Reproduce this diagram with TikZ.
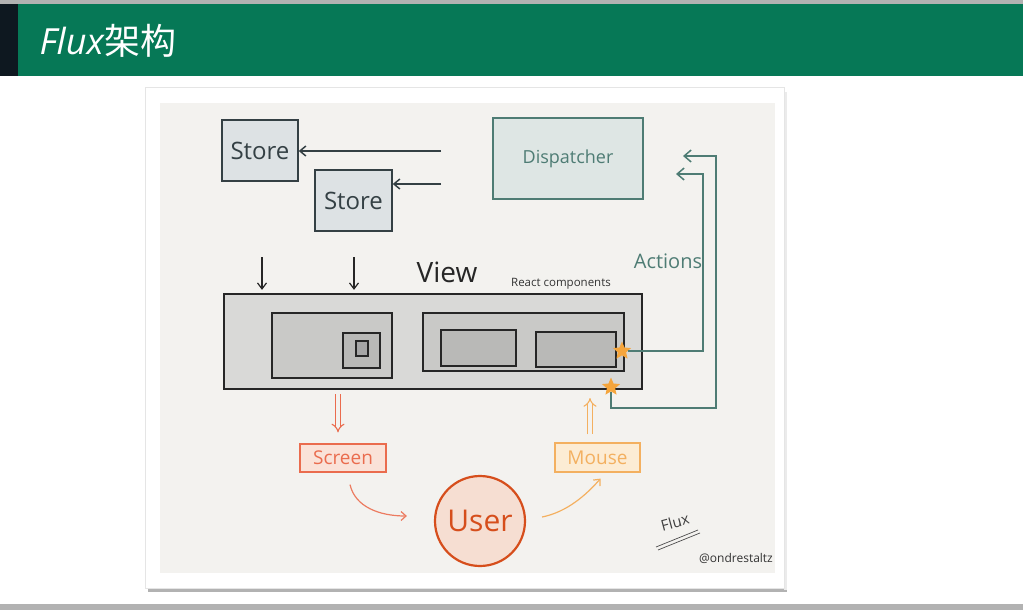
\documentclass[tikz,border=0pt]{standalone}
\usepackage{fontspec}
\setmainfont{Open Sans}
\newfontfamily\cjk{Noto Sans CJK SC}
\usetikzlibrary{arrows.meta,positioning,calc,shapes.geometric}

\definecolor{slidegreen}{RGB}{6,120,86}
\definecolor{slidedark}{RGB}{14,24,32}
\definecolor{paper}{RGB}{243,242,239}
\definecolor{inkdark}{RGB}{52,64,68}
\definecolor{storefill}{RGB}{221,226,228}
\definecolor{dispteal}{RGB}{78,124,116}
\definecolor{dispfill}{RGB}{222,230,228}
\definecolor{viewfill}{RGB}{217,217,215}
\definecolor{compfill}{RGB}{201,201,199}
\definecolor{subfill}{RGB}{185,185,183}
\definecolor{screenred}{RGB}{234,108,78}
\definecolor{screenfill}{RGB}{250,226,216}
\definecolor{mouseorange}{RGB}{243,176,96}
\definecolor{mousefill}{RGB}{252,236,212}
\definecolor{userred}{RGB}{214,78,28}
\definecolor{userfill}{RGB}{246,222,210}
\definecolor{starorange}{RGB}{245,165,60}

\begin{document}
\begin{tikzpicture}[
    x=1pt, y=-1pt,
    store/.style={
        rectangle, draw=inkdark, fill=storefill, line width=1.4pt,
        inner sep=0pt, minimum width=76pt, minimum height=61pt,
        font=\fontsize{24}{28}\selectfont, text=inkdark
    },
    dispatcher/.style={
        rectangle, draw=dispteal, fill=dispfill, line width=1.4pt,
        inner sep=0pt, minimum width=150pt, minimum height=81pt,
        font=\fontsize{18}{21}\selectfont, text=dispteal
    },
    comp/.style={
        rectangle, draw=black!85, line width=1.6pt, inner sep=0pt
    },
    tag/.style={
        rectangle, line width=1.2pt, inner sep=0pt,
        minimum width=86pt, minimum height=28pt,
        font=\fontsize{19}{22}\selectfont
    },
    spark/.style={
        star, star points=5, star point ratio=2.2, fill=starorange,
        inner sep=0pt, minimum size=19pt
    },
    feed/.style={-{Straight Barb[length=6pt,width=10pt]}, line width=1.5pt, inkdark},
    down/.style={-{Straight Barb[length=6pt,width=9pt]}, line width=1.2pt, black!85},
    act/.style={-{Straight Barb[length=7pt,width=12pt]}, line width=1.5pt, dispteal},
    flow/.style={double, double=paper, line width=1.1pt, double distance=3.4pt, -{Implies}}
]
\useasboundingbox (0,0) rectangle (1023,610);

% 幻灯片
\fill[white] (0,0) rectangle (1023,610);
\fill[black!30] (0,0) rectangle (1023,4);
\fill[slidedark] (0,4) rectangle (18,76);
\fill[slidegreen] (18,4) rectangle (1023,76);
\fill[black!30] (0,604) rectangle (1023,610);
\node[anchor=west, text=white, font=\fontsize{36}{42}\selectfont] (title) at (36,41)
    {\textit{Flux}\cjk 架构};

% 照片
\fill[black!30] (148,585) rectangle (787,592);
\fill[black!8] (784,92) rectangle (787,590);
\filldraw[fill=white, draw=black!10, line width=0.6pt] (145,87) rectangle (784,588);
\fill[paper] (160,103) rectangle (775,573);

% Store 与 Dispatcher
\node[store] (store1) at (260,150.5) {Store};
\node[store, minimum width=77pt] (store2) at (353.5,200.5) {Store};
\node[dispatcher] (disp) at (568,158.5) {Dispatcher};

\coordinate (s1tail) at (441,151);
\coordinate (s2tail) at (441,184);
\draw[feed] (s1tail) -- (s1tail -| store1.east);
\draw[feed] (s2tail) -- (s2tail -| store2.east);

% View
\node[comp, fill=viewfill, line width=2.2pt, minimum width=418pt, minimum height=95pt] (view) at (433,341.5) {};
\node[comp, fill=compfill, minimum width=120pt, minimum height=65pt] (comp1) at (332,345.5) {};
\node[comp, fill=subfill, minimum width=37pt, minimum height=35pt] (comp1a) at (361.5,350.5) {};
\node[comp, fill=black!35, line width=1.3pt, minimum width=12pt, minimum height=15pt] (comp1b) at (362,348.5) {};
\node[comp, fill=compfill, minimum width=201pt, minimum height=58pt] (comp2) at (523.5,342) {};
\node[comp, fill=subfill, minimum width=75pt, minimum height=36pt] (comp2a) at (478.5,348) {};
\node[comp, fill=subfill, minimum width=80pt, minimum height=35pt] (comp2b) at (576,349.5) {};

\node[font=\fontsize{28}{32}\selectfont, text=black!85] (viewlbl) at (447,272) {View};
\node[font=\fontsize{11.5}{13}\selectfont, text=black!80] (react) at (561,284) {React components};

\coordinate (v1tail) at (262,257);
\coordinate (v2tail) at (354,257);
\draw[down] (v1tail) -- ([yshift=3pt]v1tail |- view.north);
\draw[down] (v2tail) -- ([yshift=3pt]v2tail |- view.north);

% Actions
\node[spark] (star1) at (622,351) {};
\node[spark] (star2) at (611,387) {};
\coordinate (act1) at (676,174);
\coordinate (act2) at (683,156);
\draw[act] (star1) -- ++(81,0) |- (act1);
\draw[act] (star2) |- ++(105,21) |- (act2);
\node[font=\fontsize{20}{24}\selectfont, text=dispteal] (actions) at (668,261) {Actions};

% User 循环
\node[tag, draw=screenred, fill=screenfill, text=screenred] (screen) at (343,458) {Screen};
\node[tag, draw=mouseorange, fill=mousefill, text=mouseorange, minimum width=85pt, minimum height=29pt] (mouse) at (597.5,457.5) {Mouse};
\node[circle, draw=userred, fill=userfill, line width=2.2pt, minimum size=90pt, inner sep=0pt,
      font=\fontsize{30}{34}\selectfont, text=userred] (user) at (480,521) {User};

\coordinate (outtail) at (338,394);
\coordinate (intip) at (590,398);
\draw[flow, draw=screenred] (outtail) -- ([yshift=11pt]outtail |- screen.north);
\draw[flow, draw=mouseorange] ([yshift=8pt]intip |- mouse.north) -- (intip);

\draw[-{Straight Barb[length=5pt,width=9pt]}, line width=1.2pt, screenred!90]
    ([shift={(7,12)}]screen.south) .. controls +(5,22) and +(-28,0) .. ([shift={(-27,-5)}]user.west);
\draw[-{Straight Barb[length=5pt,width=9pt]}, line width=1.2pt, mouseorange]
    ([shift={(16,-4)}]user.east) .. controls +(25,-5) and +(-14,16) .. ([shift={(3,6)}]mouse.south);

% 签名
\node[rotate=15, font=\fontsize{15}{17}\selectfont, text=black!75] (sign) at (675,522) {Flux};
\draw[black!70, line width=0.7pt] (656,547) -- (698,530);
\draw[black!70, line width=0.7pt] (658,550) -- (700,533);
\node[font=\fontsize{12}{14}\selectfont, text=black!80] (handle) at (736,558) {@ondrestaltz};

\end{tikzpicture}
\end{document}
